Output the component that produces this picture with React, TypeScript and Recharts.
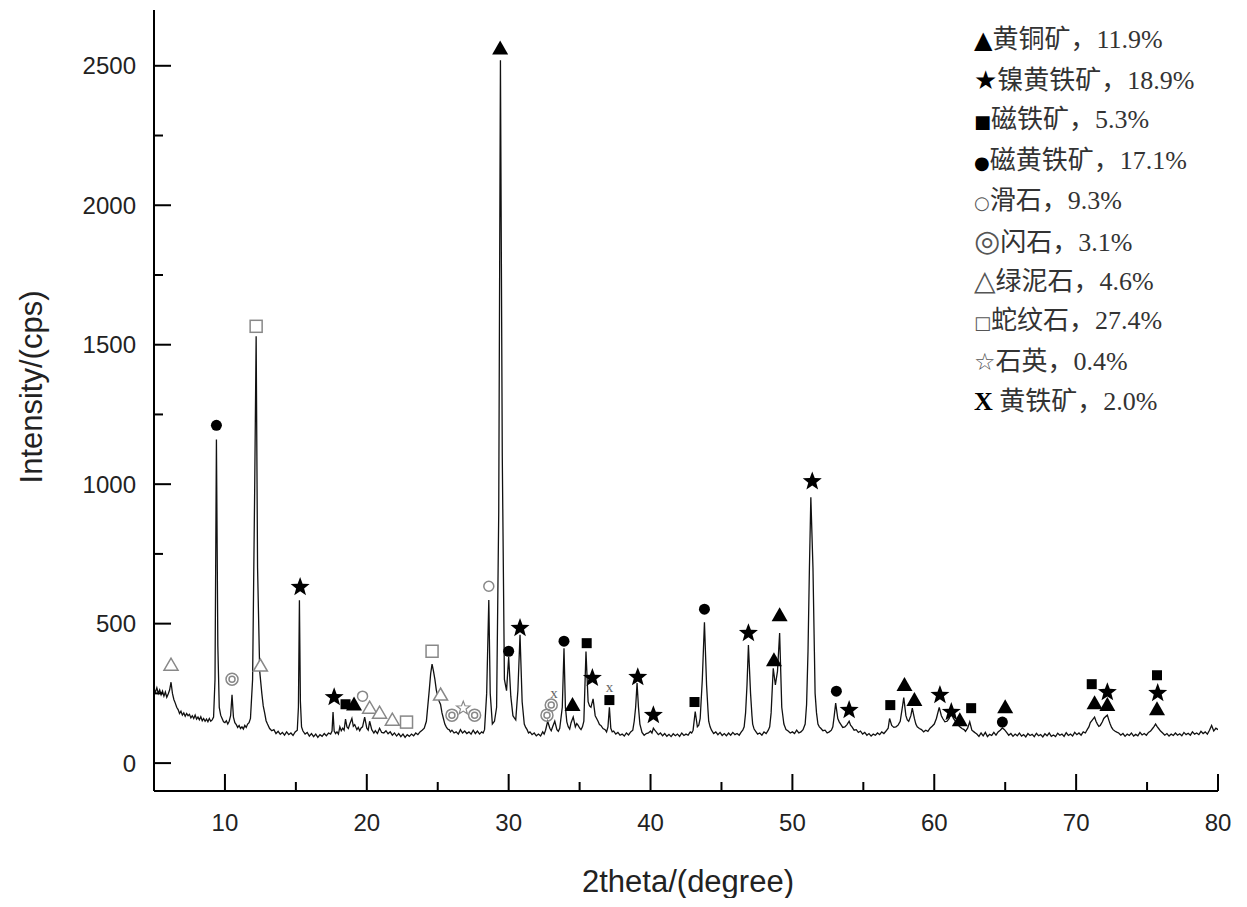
import React from "react";
import {
  ComposedChart,
  Line,
  Scatter,
  XAxis,
  YAxis,
} from "recharts";

// XRD pattern, [2theta, intensity]
const pattern: [number, number][] = [
  [5.0, 265], [5.1, 255], [5.2, 270], [5.3, 250], [5.4, 262], [5.5, 245], [5.6, 258], [5.7, 240],
  [5.8, 255], [5.9, 236], [6.0, 248], [6.1, 262], [6.2, 290], [6.3, 250], [6.4, 228], [6.5, 215],
  [6.6, 200], [6.7, 192], [6.8, 178], [6.9, 186], [7.0, 172], [7.1, 180], [7.2, 168], [7.3, 178],
  [7.4, 170], [7.5, 175], [7.6, 162], [7.7, 170], [7.8, 160], [7.9, 172], [8.0, 158], [8.1, 165],
  [8.2, 155], [8.3, 166], [8.4, 152], [8.5, 160], [8.6, 150], [8.7, 158], [8.8, 148], [8.9, 160],
  [9.0, 150], [9.1, 155], [9.2, 165], [9.3, 300], [9.4, 1160], [9.5, 420], [9.6, 200], [9.7, 172],
  [9.8, 160], [9.9, 148], [10.0, 145], [10.1, 152], [10.2, 140], [10.3, 150], [10.4, 170], [10.5, 245],
  [10.6, 165], [10.7, 145], [10.8, 138], [10.9, 128], [11.0, 135], [11.1, 124], [11.2, 130], [11.3, 122],
  [11.4, 135], [11.5, 128], [11.6, 140], [11.7, 145], [11.8, 160], [11.95, 300], [12.1, 1000], [12.2, 1530],
  [12.3, 700], [12.45, 330], [12.6, 250], [12.7, 205], [12.8, 180], [12.9, 152], [13.0, 140], [13.15, 124],
  [13.3, 116], [13.45, 120], [13.6, 106], [13.75, 114], [13.9, 103], [14.05, 110], [14.2, 100], [14.35, 112],
  [14.5, 102], [14.65, 108], [14.8, 99], [14.95, 112], [15.1, 118], [15.18, 200], [15.25, 584], [15.32, 220],
  [15.4, 130], [15.5, 115], [15.65, 104], [15.8, 110], [15.95, 97], [16.1, 106], [16.25, 95], [16.4, 104],
  [16.55, 92], [16.7, 102], [16.85, 96], [17.0, 106], [17.15, 98], [17.3, 108], [17.45, 104], [17.55, 115],
  [17.62, 183], [17.7, 115], [17.8, 106], [17.9, 112], [18.0, 104], [18.1, 130], [18.2, 116], [18.3, 125],
  [18.4, 118], [18.5, 158], [18.6, 130], [18.7, 124], [18.8, 140], [18.95, 160], [19.05, 132], [19.15, 138],
  [19.3, 120], [19.4, 128], [19.5, 116], [19.6, 126], [19.7, 130], [19.85, 165], [20.0, 125], [20.1, 118],
  [20.2, 150], [20.35, 120], [20.5, 108], [20.6, 116], [20.75, 106], [20.9, 125], [21.05, 110], [21.2, 108],
  [21.35, 116], [21.5, 105], [21.65, 112], [21.8, 100], [21.95, 108], [22.1, 97], [22.25, 106], [22.4, 95],
  [22.55, 104], [22.7, 92], [22.85, 102], [23.0, 96], [23.15, 104], [23.3, 98], [23.45, 108], [23.6, 102],
  [23.75, 112], [23.9, 118], [24.05, 125], [24.2, 150], [24.4, 260], [24.5, 320], [24.6, 355], [24.7, 330],
  [24.8, 300], [24.9, 262], [25.0, 240], [25.1, 222], [25.2, 210], [25.3, 180], [25.4, 160], [25.5, 140],
  [25.6, 130], [25.7, 122], [25.8, 120], [25.9, 112], [26.0, 118], [26.15, 108], [26.3, 112], [26.45, 104],
  [26.6, 120], [26.75, 108], [26.9, 115], [27.05, 106], [27.2, 112], [27.35, 104], [27.5, 118], [27.65, 106],
  [27.8, 115], [27.95, 104], [28.1, 112], [28.2, 108], [28.3, 120], [28.45, 250], [28.6, 585], [28.7, 250],
  [28.85, 140], [29.0, 150], [29.15, 200], [29.3, 900], [29.42, 2520], [29.55, 1100], [29.7, 300], [29.85, 260],
  [30.0, 380], [30.15, 240], [30.3, 170], [30.4, 162], [30.5, 155], [30.65, 260], [30.8, 460], [30.95, 220],
  [31.1, 140], [31.2, 128], [31.3, 120], [31.4, 108], [31.5, 112], [31.65, 102], [31.8, 108], [31.95, 98],
  [32.1, 104], [32.25, 97], [32.4, 112], [32.5, 104], [32.6, 118], [32.75, 150], [32.9, 125], [33.0, 116],
  [33.1, 130], [33.25, 150], [33.4, 120], [33.5, 114], [33.6, 125], [33.78, 200], [33.9, 412], [34.0, 200],
  [34.1, 148], [34.2, 130], [34.3, 122], [34.4, 145], [34.55, 165], [34.7, 130], [34.8, 142], [34.9, 135],
  [35.0, 126], [35.1, 120], [35.2, 130], [35.3, 150], [35.45, 400], [35.6, 220], [35.7, 205], [35.8, 200],
  [35.95, 230], [36.1, 170], [36.2, 160], [36.3, 150], [36.4, 138], [36.5, 135], [36.65, 124], [36.8, 120],
  [36.9, 112], [37.0, 130], [37.1, 200], [37.2, 125], [37.3, 112], [37.4, 115], [37.55, 104], [37.7, 110],
  [37.85, 100], [38.0, 104], [38.15, 97], [38.3, 108], [38.45, 101], [38.6, 112], [38.75, 118], [38.85, 150],
  [38.95, 200], [39.05, 287], [39.15, 200], [39.25, 140], [39.4, 110], [39.55, 100], [39.7, 106], [39.85, 108],
  [40.0, 115], [40.1, 108], [40.2, 125], [40.3, 118], [40.4, 112], [40.55, 102], [40.7, 108], [40.85, 98],
  [41.0, 106], [41.15, 96], [41.3, 103], [41.45, 95], [41.6, 105], [41.75, 98], [41.9, 104], [42.05, 96],
  [42.2, 108], [42.35, 99], [42.5, 104], [42.65, 100], [42.8, 112], [42.9, 108], [43.0, 118], [43.15, 185],
  [43.3, 130], [43.4, 136], [43.5, 160], [43.65, 300], [43.8, 505], [43.95, 280], [44.05, 190], [44.1, 150],
  [44.2, 130], [44.3, 118], [44.45, 106], [44.6, 112], [44.75, 102], [44.9, 110], [45.05, 99], [45.2, 106],
  [45.35, 98], [45.5, 108], [45.65, 100], [45.8, 110], [45.95, 102], [46.1, 106], [46.25, 100], [46.4, 112],
  [46.5, 118], [46.6, 130], [46.7, 180], [46.8, 280], [46.9, 423], [47.05, 250], [47.15, 170], [47.2, 140],
  [47.3, 122], [47.4, 115], [47.55, 104], [47.7, 108], [47.85, 100], [48.0, 112], [48.15, 106], [48.3, 118],
  [48.4, 130], [48.5, 180], [48.65, 340], [48.8, 280], [48.95, 330], [49.1, 466], [49.25, 200], [49.35, 160],
  [49.4, 140], [49.55, 120], [49.7, 115], [49.85, 108], [50.0, 112], [50.15, 106], [50.3, 118], [50.45, 108],
  [50.6, 112], [50.75, 120], [50.9, 140], [51.0, 210], [51.1, 400], [51.2, 700], [51.3, 953], [51.45, 700],
  [51.55, 400], [51.6, 250], [51.7, 180], [51.8, 140], [51.9, 130], [52.0, 125], [52.15, 116], [52.3, 118],
  [52.45, 108], [52.6, 112], [52.75, 118], [52.85, 130], [52.95, 170], [53.05, 215], [53.2, 160], [53.3, 148],
  [53.4, 140], [53.55, 128], [53.7, 130], [53.85, 138], [54.0, 150], [54.1, 136], [54.2, 130], [54.35, 118],
  [54.5, 120], [54.65, 110], [54.8, 115], [54.95, 104], [55.1, 110], [55.25, 100], [55.4, 106], [55.55, 97],
  [55.7, 104], [55.85, 100], [56.0, 108], [56.15, 102], [56.3, 112], [56.45, 106], [56.6, 115], [56.75, 125],
  [56.85, 160], [57.0, 135], [57.15, 128], [57.3, 130], [57.45, 136], [57.6, 150], [57.75, 200], [57.85, 235],
  [58.0, 170], [58.1, 155], [58.2, 150], [58.35, 170], [58.45, 197], [58.6, 160], [58.7, 140], [58.8, 130],
  [58.95, 124], [59.1, 120], [59.25, 112], [59.4, 118], [59.55, 114], [59.7, 125], [59.85, 132], [60.0, 140],
  [60.15, 160], [60.35, 200], [60.5, 170], [60.6, 160], [60.75, 148], [60.9, 150], [61.05, 160], [61.2, 180],
  [61.35, 160], [61.5, 150], [61.65, 138], [61.8, 130], [61.95, 124], [62.1, 120], [62.2, 114], [62.35, 125],
  [62.5, 148], [62.65, 118], [62.8, 112], [62.9, 108], [63.0, 104], [63.15, 96], [63.3, 108], [63.45, 98],
  [63.6, 110], [63.75, 95], [63.9, 103], [64.05, 99], [64.2, 110], [64.35, 100], [64.5, 112], [64.65, 118],
  [64.8, 126], [64.95, 120], [65.1, 110], [65.25, 100], [65.4, 106], [65.55, 96], [65.7, 104], [65.85, 98],
  [66.0, 108], [66.15, 97], [66.3, 102], [66.45, 94], [66.6, 106], [66.75, 99], [66.9, 103], [67.05, 95],
  [67.2, 107], [67.35, 98], [67.5, 102], [67.65, 94], [67.8, 105], [67.95, 98], [68.1, 108], [68.25, 96],
  [68.4, 101], [68.55, 95], [68.7, 107], [68.85, 100], [69.0, 104], [69.15, 96], [69.3, 109], [69.45, 99],
  [69.6, 104], [69.75, 97], [69.9, 110], [70.05, 102], [70.2, 108], [70.35, 100], [70.5, 112], [70.65, 108],
  [70.8, 122], [70.9, 130], [71.0, 145], [71.15, 155], [71.3, 165], [71.4, 150], [71.5, 140], [71.6, 132],
  [71.7, 135], [71.85, 148], [71.95, 160], [72.1, 168], [72.2, 172], [72.3, 155], [72.4, 140], [72.5, 128],
  [72.6, 120], [72.75, 114], [72.9, 110], [73.0, 108], [73.15, 100], [73.3, 106], [73.45, 96], [73.6, 104],
  [73.75, 99], [73.9, 108], [74.05, 97], [74.2, 103], [74.35, 98], [74.5, 110], [74.65, 101], [74.8, 106],
  [74.95, 100], [75.1, 110], [75.25, 115], [75.4, 125], [75.5, 132], [75.6, 140], [75.7, 132], [75.8, 125],
  [75.95, 115], [76.1, 108], [76.25, 100], [76.4, 106], [76.55, 97], [76.7, 104], [76.85, 99], [77.0, 108],
  [77.15, 100], [77.3, 105], [77.45, 98], [77.6, 110], [77.75, 102], [77.9, 107], [78.05, 100], [78.2, 112],
  [78.35, 104], [78.5, 108], [78.65, 102], [78.8, 114], [78.95, 106], [79.1, 112], [79.25, 104], [79.4, 118],
  [79.55, 135], [79.7, 115], [79.85, 125], [80.0, 120],
];

// phase markers, [2theta, intensity]
const chalcopyrite = [[29.4, 2562], [19.1, 210], [34.5, 208], [48.7, 369], [49.1, 530], [57.9, 280], [58.6, 226], [61.8, 154], [65.0, 200], [71.3, 215], [72.2, 208], [75.7, 193]];
const pentlandite = [[15.3, 631], [17.7, 236], [30.8, 484], [35.9, 305], [39.1, 308], [40.2, 172], [46.9, 466], [51.4, 1010], [54.0, 190], [60.4, 244], [61.2, 183], [72.2, 254], [75.75, 251]];
const magnetite = [[18.5, 211], [35.5, 430], [37.1, 226], [43.1, 219], [56.9, 208], [62.6, 197], [71.1, 283], [75.7, 315]];
const pyrrhotite = [[9.4, 1211], [30.0, 401], [33.9, 437], [43.8, 552], [53.1, 258], [64.8, 147]];
const talc = [[19.7, 240], [28.6, 634]];
const amphibole = [[10.5, 301], [26.0, 172], [27.6, 172], [32.7, 172], [33.0, 208]];
const chlorite = [[6.2, 351], [12.5, 348], [20.2, 197], [20.9, 179], [21.8, 154], [25.2, 244]];
const serpentine = [[12.2, 1566], [22.8, 147], [24.6, 401]];
const quartz = [[26.8, 197]];
const pyrite = [[33.2, 251], [37.1, 272]];

const legendSymbols = ["▲", "★", "■", "●", "○", "◎", "△", "□", "☆", "X "];
const legendNames = ["黄铜矿", "镍黄铁矿", "磁铁矿", "磁黄铁矿", "滑石", "闪石", "绿泥石", "蛇纹石", "石英", "黄铁矿"];
const legendShares = ["11.9%", "18.9%", "5.3%", "17.1%", "9.3%", "3.1%", "4.6%", "27.4%", "0.4%", "2.0%"];

const xTicks = [5, 10, 15, 20, 25, 30, 35, 40, 45, 50, 55, 60, 65, 70, 75, 80];
const yTicks = [0, 250, 500, 750, 1000, 1250, 1500, 1750, 2000, 2250, 2500];

const curve = pattern.map(([x, y]) => ({ x, y }));
const pts = (a: number[][]) => a.map(([x, y]) => ({ x, y }));

const GRAY = "#888";
const SANS = "'Liberation Sans', Arial, sans-serif";
const SERIF = "'Liberation Serif', 'Noto Sans CJK SC', serif";

const starPath = (cx: number, cy: number, r: number) => {
  let d = "";
  for (let i = 0; i < 10; i++) {
    const rad = i % 2 === 0 ? r : r * 0.42;
    const a = -Math.PI / 2 + (i * Math.PI) / 5;
    d += `${i === 0 ? "M" : "L"}${cx + rad * Math.cos(a)},${cy + rad * Math.sin(a)}`;
  }
  return d + "Z";
};

const shapes: Record<string, (p: any) => React.ReactElement> = {
  triFill: ({ cx, cy }) => (
    <polygon points={`${cx},${cy - 8} ${cx - 8},${cy + 6} ${cx + 8},${cy + 6}`} fill="#000" />
  ),
  star: ({ cx, cy }) => <path d={starPath(cx, cy, 10)} fill="#000" />,
  square: ({ cx, cy }) => <rect x={cx - 5} y={cy - 5} width={10} height={10} fill="#000" />,
  dot: ({ cx, cy }) => <circle cx={cx} cy={cy} r={5.5} fill="#000" />,
  ring: ({ cx, cy }) => <circle cx={cx} cy={cy} r={5} fill="#fff" stroke={GRAY} strokeWidth={1.5} />,
  doubleRing: ({ cx, cy }) => (
    <g fill="none" stroke={GRAY} strokeWidth={1.5}>
      <circle cx={cx} cy={cy} r={6} />
      <circle cx={cx} cy={cy} r={3} />
    </g>
  ),
  triOpen: ({ cx, cy }) => (
    <polygon points={`${cx},${cy - 7} ${cx - 7},${cy + 5} ${cx + 7},${cy + 5}`} fill="#fff" stroke={GRAY} strokeWidth={1.5} />
  ),
  squareOpen: ({ cx, cy }) => (
    <rect x={cx - 6} y={cy - 6} width={12} height={12} fill="#fff" stroke={GRAY} strokeWidth={1.5} />
  ),
  starOpen: ({ cx, cy }) => <path d={starPath(cx, cy, 7)} fill="#fff" stroke={GRAY} strokeWidth={1.2} />,
  cross: ({ cx, cy }) => (
    <text x={cx} y={cy + 5} textAnchor="middle" fontFamily="'Liberation Serif', serif" fontSize={15} fill="#666">
      x
    </text>
  ),
};

const markerSets: [number[][], string][] = [
  [chalcopyrite, "triFill"],
  [pentlandite, "star"],
  [magnetite, "square"],
  [pyrrhotite, "dot"],
  [talc, "ring"],
  [amphibole, "doubleRing"],
  [chlorite, "triOpen"],
  [serpentine, "squareOpen"],
  [quartz, "starOpen"],
  [pyrite, "cross"],
];

// legend glyph sizes, big for the triangles / stars like the original
const legendGlyphSize = [24, 26, 18, 18, 18, 30, 28, 18, 24, 26];

const PLOT_BOTTOM = 783;
const PLOT_LEFT = 146;

const XTick = ({ x, payload }: any) => {
  const v = payload.value;
  const major = v % 10 === 0;
  return (
    <g>
      <line x1={x} x2={x} y1={PLOT_BOTTOM} y2={PLOT_BOTTOM - (major ? 17 : 9)} stroke="#000" strokeWidth={2} />
      {major && (
        <text x={x} y={PLOT_BOTTOM + 40} textAnchor="middle" fontFamily={SANS} fontSize={24} fill="#222">
          {v}
        </text>
      )}
    </g>
  );
};

const YTick = ({ y, payload }: any) => {
  const v = payload.value;
  const major = v % 500 === 0;
  return (
    <g>
      <line x1={PLOT_LEFT} x2={PLOT_LEFT + (major ? 17 : 9)} y1={y} y2={y} stroke="#000" strokeWidth={2} />
      {major && (
        <text x={PLOT_LEFT - 18} y={y + 8.5} textAnchor="end" fontFamily={SANS} fontSize={24} fill="#222">
          {v}
        </text>
      )}
    </g>
  );
};

export default function App() {
  return (
    <div style={{ position: "relative", width: 1231, height: 890, background: "#fff" }}>
      <ComposedChart width={1231} height={890} margin={{ top: 2, right: 21, bottom: 47, left: 0 }}>
        <XAxis
          xAxisId="b"
          type="number"
          dataKey="x"
          domain={[5, 80]}
          ticks={xTicks}
          interval={0}
          allowDataOverflow
          height={60}
          tickSize={0}
          tickMargin={0}
          tick={<XTick />}
          axisLine={{ stroke: "#000", strokeWidth: 2 }}
        />
        <XAxis xAxisId="t" orientation="top" type="number" domain={[5, 80]} height={0} tick={false} axisLine={{ stroke: "#000", strokeWidth: 2 }} />
        <YAxis
          yAxisId="l"
          type="number"
          domain={[-100, 2700]}
          ticks={yTicks}
          interval={0}
          allowDataOverflow
          width={146}
          tickSize={0}
          tickMargin={0}
          tick={<YTick />}
          axisLine={{ stroke: "#000", strokeWidth: 2 }}
        />
        <YAxis yAxisId="r" orientation="right" type="number" domain={[-100, 2700]} width={0} tick={false} axisLine={{ stroke: "#000", strokeWidth: 2 }} />
        <Line
          xAxisId="b"
          yAxisId="l"
          data={curve}
          dataKey="y"
          type="linear"
          stroke="#111"
          strokeWidth={1.3}
          dot={false}
          isAnimationActive={false}
        />
        {markerSets.map(([set, shape]) => (
          <Scatter
            key={shape}
            xAxisId="b"
            yAxisId="l"
            data={pts(set)}
            dataKey="y"
            shape={shapes[shape]}
            isAnimationActive={false}
          />
        ))}
      </ComposedChart>

      {/* axis titles */}
      <div
        style={{
          position: "absolute",
          left: 24,
          top: 379,
          transform: "translate(-50%, -50%) rotate(-90deg)",
          fontFamily: SANS,
          fontSize: 31,
          color: "#222",
          whiteSpace: "nowrap",
        }}
      >
        Intensity/(cps)
      </div>
      <div
        style={{
          position: "absolute",
          left: 680,
          top: 874,
          transform: "translate(-50%, -50%)",
          fontFamily: SANS,
          fontSize: 31,
          color: "#222",
          whiteSpace: "nowrap",
        }}
      >
        2theta/(degree)
      </div>

      {/* legend */}
      <div
        style={{
          position: "absolute",
          left: 966,
          top: 12,
          fontFamily: SERIF,
          fontSize: 26,
          lineHeight: "40.2px",
          color: "#333",
          whiteSpace: "nowrap",
        }}
      >
        {legendNames.map((name, i) => (
          <div key={name} style={{ height: 40.2 }}>
            <span
              style={{
                fontFamily: i === 9 ? "'Liberation Serif', serif" : "'DejaVu Sans', sans-serif",
                fontWeight: i === 9 ? 700 : 400,
                fontSize: legendGlyphSize[i],
                color: i < 4 || i === 9 ? "#000" : "#555",
              }}
            >
              {legendSymbols[i]}
            </span>
            {name}，{legendShares[i]}
          </div>
        ))}
      </div>
    </div>
  );
}
